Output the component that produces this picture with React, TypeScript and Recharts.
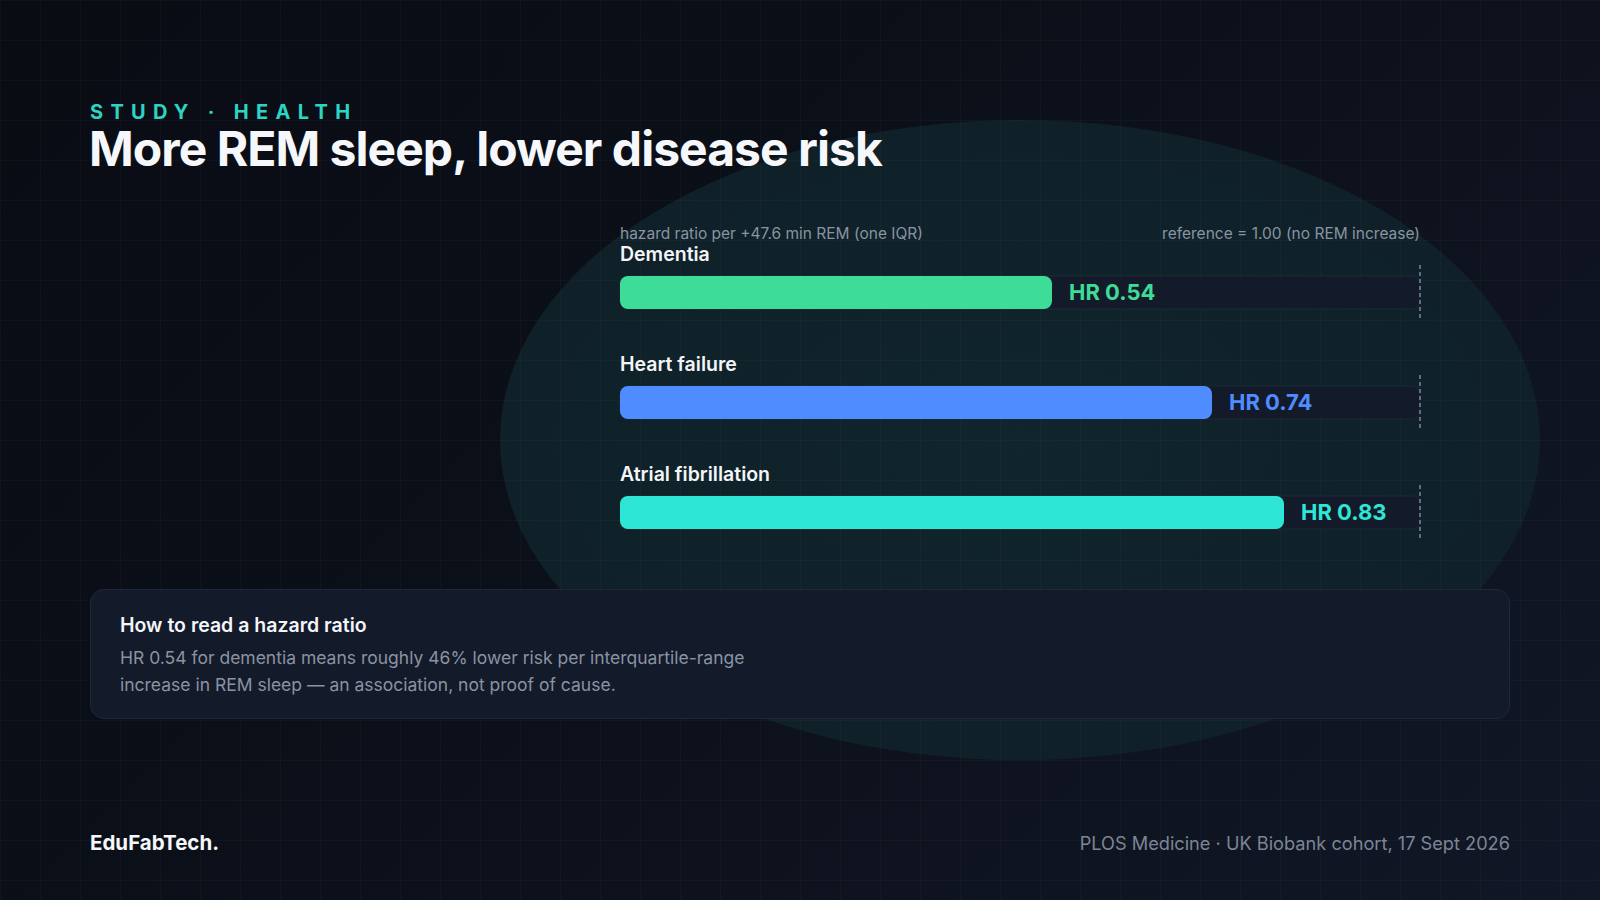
import React from 'react';
import { BarChart, Bar, XAxis, YAxis, Cell, LabelList } from 'recharts';

// outcomes and hazard ratios per +1 IQR of REM sleep
const outcomes = ['Dementia', 'Heart failure', 'Atrial fibrillation'];
const hazardRatios = [0.54, 0.74, 0.83];
const barColors = ['#3ddc97', '#4f8cff', '#2ee6d6'];

const chartData = outcomes.map((name, i) => ({
  name,
  hr: hazardRatios[i],
  color: barColors[i],
}));

const FONT = 'Inter, "Noto Sans", sans-serif';

// track behind each bar + dashed reference mark at HR 1.00
const Track = (props: any) => {
  const { x, y, width, height } = props;
  return (
    <g>
      <rect
        x={x}
        y={y}
        width={width}
        height={height}
        rx={8}
        ry={8}
        fill="#131a2a"
        stroke="rgba(255,255,255,0.05)"
        strokeWidth={1}
      />
      <line
        x1={x + width}
        x2={x + width}
        y1={y - 11}
        y2={y + height + 10}
        stroke="#7b8799"
        strokeWidth={1.5}
        strokeDasharray="4 3"
      />
    </g>
  );
};

const renderName = (props: any) => {
  const { x, y, value } = props;
  return (
    <text
      x={x}
      y={y - 20}
      fill="#f3f5f9"
      fontFamily={FONT}
      fontSize={19.5}
      fontWeight={600}
      dominantBaseline="middle"
    >
      {value}
    </text>
  );
};

const renderValue = (props: any) => {
  const { x, y, width, height, value, index } = props;
  return (
    <text
      x={x + width + 17}
      y={y + height / 2 + 1}
      fill={barColors[index]}
      fontFamily={FONT}
      fontSize={22}
      fontWeight={700}
      dominantBaseline="middle"
    >
      {`HR ${Number(value).toFixed(2)}`}
    </text>
  );
};

export default function App() {
  return (
    <div
      style={{
        position: 'fixed',
        left: 0,
        top: 0,
        width: 1600,
        height: 900,
        overflow: 'hidden',
        fontFamily: FONT,
        background: 'linear-gradient(135deg, #090c13 0%, #0c101a 50%, #111726 100%)',
      }}
    >
      {/* soft teal blob */}
      <svg width={1600} height={900} style={{ position: 'absolute', left: 0, top: 0 }}>
        <defs>
          <radialGradient id="blob" cx="50%" cy="50%" r="50%">
            <stop offset="0%" stopColor="#10252c" />
            <stop offset="100%" stopColor="#0f2028" />
          </radialGradient>
        </defs>
        <ellipse cx={1020} cy={440} rx={520} ry={320} fill="url(#blob)" />
      </svg>

      {/* grid */}
      <div
        style={{
          position: 'absolute',
          inset: 0,
          backgroundImage:
            'linear-gradient(rgba(255,255,255,0.025) 1px, transparent 1px), linear-gradient(90deg, rgba(255,255,255,0.025) 1px, transparent 1px)',
          backgroundSize: '40px 40px',
        }}
      />

      <div
        style={{
          position: 'absolute',
          left: 90,
          top: 101,
          fontSize: 20,
          fontWeight: 700,
          letterSpacing: '0.365em',
          color: '#2dd4c4',
          lineHeight: '22px',
        }}
      >
        STUDY · HEALTH
      </div>
      <div
        style={{
          position: 'absolute',
          left: 89,
          top: 123,
          fontSize: 48,
          fontWeight: 700,
          letterSpacing: '-0.02em',
          color: '#f5f7fb',
          lineHeight: '52px',
        }}
      >
        More REM sleep, lower disease risk
      </div>

      <div
        style={{
          position: 'absolute',
          left: 620,
          top: 224,
          fontSize: 15.5,
          color: '#8a93a2',
          lineHeight: '20px',
        }}
      >
        hazard ratio per +47.6 min REM (one IQR)
      </div>
      <div
        style={{
          position: 'absolute',
          right: 180,
          top: 224,
          fontSize: 15.5,
          color: '#8a93a2',
          lineHeight: '20px',
        }}
      >
        reference = 1.00 (no REM increase)
      </div>

      <div style={{ position: 'absolute', left: 0, top: 0 }}>
        <BarChart
          width={1600}
          height={900}
          data={chartData}
          layout="vertical"
          margin={{ top: 237, bottom: 333, left: 620, right: 180 }}
        >
          <XAxis type="number" domain={[0, 1]} hide />
          <YAxis type="category" dataKey="name" hide />
          <Bar
            dataKey="hr"
            barSize={33}
            radius={8}
            background={(p: any) => <Track {...p} />}
            isAnimationActive={false}
          >
            {chartData.map((d, i) => (
              <Cell key={`cell-${i}`} fill={d.color} />
            ))}
            <LabelList dataKey="name" content={renderName} />
            <LabelList dataKey="hr" content={renderValue} />
          </Bar>
        </BarChart>
      </div>

      {/* explainer box */}
      <div
        style={{
          position: 'absolute',
          left: 90,
          top: 589,
          width: 1420,
          height: 130,
          boxSizing: 'border-box',
          background: '#131a29',
          border: '1px solid #1f2839',
          borderRadius: 14,
          padding: '22px 29px',
        }}
      >
        <div style={{ fontSize: 19.5, fontWeight: 600, color: '#f3f5f9', lineHeight: '26px' }}>
          How to read a hazard ratio
        </div>
        <div
          style={{
            marginTop: 6,
            fontSize: 17.5,
            color: '#8a93a3',
            lineHeight: '27px',
            width: 680,
          }}
        >
          HR 0.54 for dementia means roughly 46% lower risk per interquartile-range increase in REM
          sleep — an association, not proof of cause.
        </div>
      </div>

      <div
        style={{
          position: 'absolute',
          left: 90,
          top: 830,
          fontSize: 20.5,
          fontWeight: 700,
          color: '#f5f7fb',
          lineHeight: '26px',
        }}
      >
        EduFabTech.
      </div>
      <div
        style={{
          position: 'absolute',
          right: 90,
          top: 830,
          fontSize: 18.2,
          color: '#7c8595',
          lineHeight: '26px',
        }}
      >
        PLOS Medicine · UK Biobank cohort, 17 Sept 2026
      </div>
    </div>
  );
}
